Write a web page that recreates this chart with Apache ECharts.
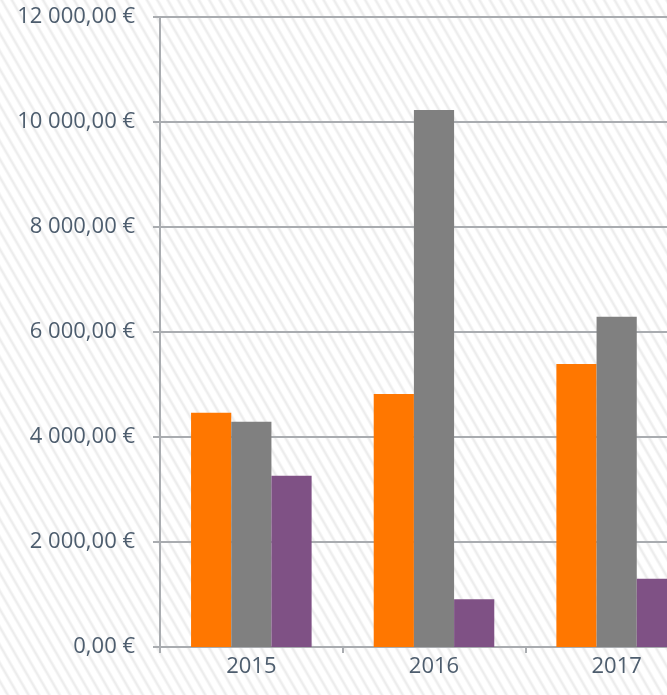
<!DOCTYPE html>
<html>
<head>
<meta charset="utf-8">
<script src="https://cdn.jsdelivr.net/npm/echarts@6/dist/echarts.min.js"></script>
<style>
  html, body { margin: 0; padding: 0; overflow: hidden; }
  #wrap {
    width: 667px; height: 695px; overflow: hidden;
    background: #ffffff repeating-linear-gradient(60deg, #ffffff 0px, #ffffff 4.5px, #ececec 6.5px, #ececec 7px, #ffffff 9px);
  }
  #chart { width: 708px; height: 695px; }
</style>
</head>
<body>
<div id="wrap"><div id="chart"></div></div>
<script>
var years = ['2015', '2016', '2017'];
var serieA = [4460, 4820, 5390];
var serieB = [4290, 10230, 6290];
var serieC = [3260, 910, 1300];
var yTicks = [0, 2000, 4000, 6000, 8000, 10000, 12000];

function euro(v) {
  var s = v.toFixed(2).split('.');
  var ent = s[0].replace(/\B(?=(\d{3})+(?!\d))/g, ' ');
  return ent + ',' + s[1] + ' €';
}

var lineColor = '#a9acb0';
var textColor = '#4d5d6e';

var myChart = echarts.init(document.getElementById('chart'));

var option = {
  backgroundColor: 'transparent',
  animation: false,
  textStyle: { fontFamily: 'Open Sans' },
  grid: { left: 160, right: 0, top: 17, bottom: 48, containLabel: false },
  xAxis: {
    type: 'category',
    data: years,
    axisLine: { lineStyle: { color: lineColor, width: 2 } },
    axisTick: { show: true, alignWithLabel: false, length: 6, lineStyle: { color: lineColor, width: 2 } },
    axisLabel: { color: textColor, fontSize: 22, margin: 9 }
  },
  yAxis: {
    type: 'value',
    min: yTicks[0],
    max: yTicks[yTicks.length - 1],
    interval: 2000,
    axisLine: { show: true, lineStyle: { color: lineColor, width: 2 } },
    axisTick: { show: true, length: 7, lineStyle: { color: lineColor, width: 2 } },
    splitLine: { lineStyle: { color: lineColor, width: 2 } },
    axisLabel: { color: textColor, fontSize: 22, margin: 25, formatter: euro }
  },
  series: [
    { name: 'A', type: 'bar', data: serieA, barGap: '0%', barCategoryGap: '34%',
      itemStyle: { color: '#ff7700' } },
    { name: 'B', type: 'bar', data: serieB, barGap: '0%', barCategoryGap: '34%',
      itemStyle: { color: '#808080' } },
    { name: 'C', type: 'bar', data: serieC, barGap: '0%', barCategoryGap: '34%',
      itemStyle: { color: '#7f5185' } }
  ]
};

myChart.setOption(option);
</script>
</body>
</html>
